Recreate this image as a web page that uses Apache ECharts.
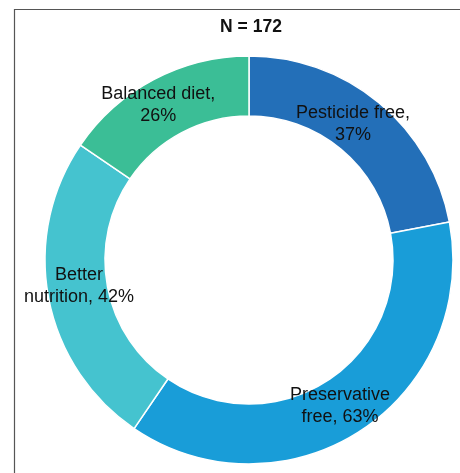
<!DOCTYPE html>
<html>
<head>
<meta charset="utf-8">
<script src="https://cdn.jsdelivr.net/npm/echarts@6/dist/echarts.min.js"></script>
<style>
html,body{margin:0;padding:0;background:#fff;}
#chart{width:460px;height:473px;}
</style>
</head>
<body>
<div id="chart"></div>
<script>
const categories = ['Pesticide free', 'Preservative free', 'Better nutrition', 'Balanced diet'];
const values = [37, 63, 42, 26];
const labelLines = ['Pesticide free,\n37%', 'Preservative\nfree, 63%', 'Better\nnutrition, 42%', 'Balanced diet,\n26%'];
const colors = ['#236FB8', '#199DD8', '#45C3CF', '#3BBE96'];
const titleText = 'N = 172';

const labelNudge = [[-9, 0], [-6, -2], [4, -7], [-8, 2]];

const chart = echarts.init(document.getElementById('chart'), null, {renderer: 'canvas'});
chart.setOption({
  animation: false,
  backgroundColor: '#ffffff',
  title: {
    text: titleText,
    left: 246,
    textAlign: 'center',
    top: 13,
    textStyle: {fontFamily: 'Liberation Sans, Arial, sans-serif', fontSize: 17.5, fontWeight: 'bold', color: '#111'}
  },
  graphic: [{
    type: 'polyline',
    shape: {points: [[14.5, 480], [14.5, 9.5], [470, 9.5]]},
    style: {stroke: '#555', lineWidth: 1.2, fill: null},
    silent: true
  }],
  series: [{
    type: 'pie',
    center: [249, 260],
    radius: [144, 204],
    startAngle: 90,
    clockwise: true,
    avoidLabelOverlap: false,
    itemStyle: {borderColor: '#ffffff', borderWidth: 1.5},
    label: {
      show: true,
      position: 'inside',
      color: '#111',
      fontFamily: 'Liberation Sans, Arial, sans-serif',
      fontSize: 18,
      lineHeight: 22,
      align: 'center',
      formatter: function (p) { return labelLines[p.dataIndex]; }
    },
    labelLine: {show: false},
    emphasis: {disabled: true},
    data: categories.map(function (c, i) {
      return {name: c, value: values[i], itemStyle: {color: colors[i]}, label: {offset: labelNudge[i]}};
    })
  }]
});
</script>
</body>
</html>
